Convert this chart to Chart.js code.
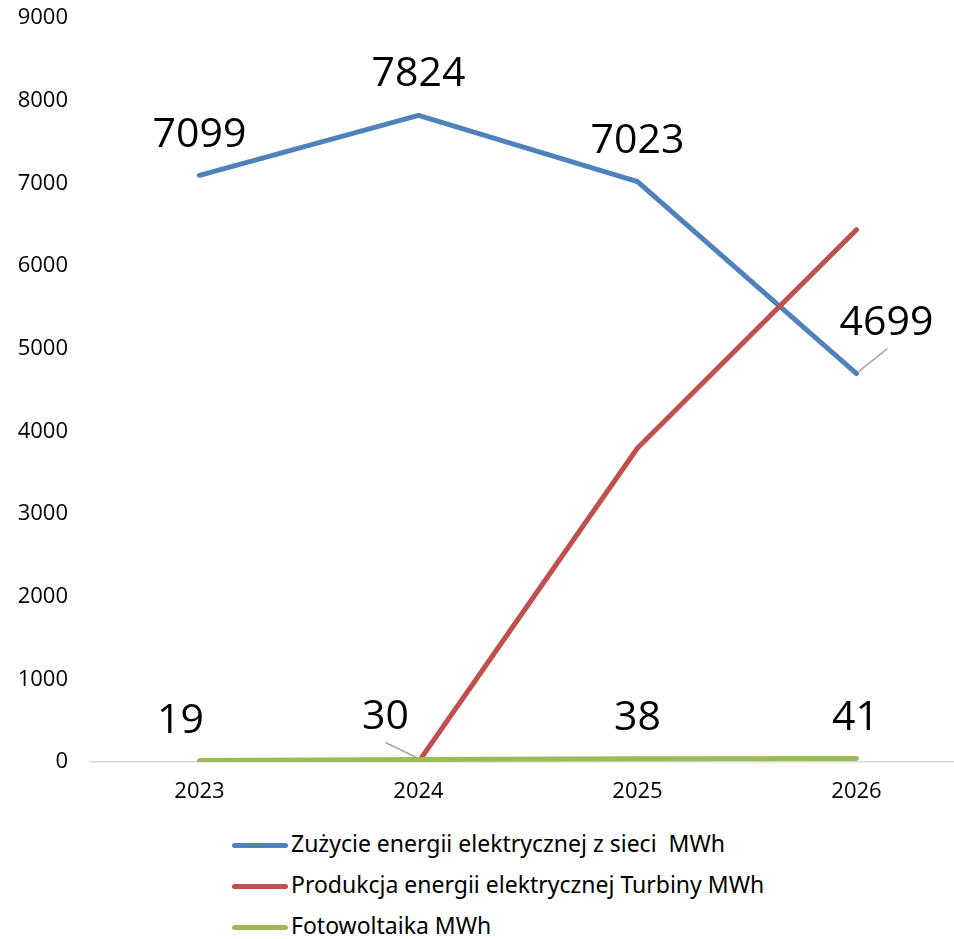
<!DOCTYPE html>
<html lang="pl">
<head>
  <meta charset="UTF-8">
  <script src="https://cdn.jsdelivr.net/npm/chart.js"></script>
  <title>Energia MWh</title>
  <style>
    html, body { margin: 0; padding: 0; background: #fff; overflow: hidden; }
    #wrap { position: relative; width: 966px; height: 832px; margin-top: -17px; }
    #legend {
      position: absolute; left: 232px; top: 823px;
      font-family: "Noto Sans", sans-serif; font-size: 23px; color: #000;
    }
    #legend div { height: 41px; line-height: 41px; white-space: pre; }
    #legend span.sw {
      display: inline-block; width: 56px; height: 5px; border-radius: 3px;
      vertical-align: middle; margin-right: 3px;
    }
  </style>
</head>
<body>
  <div id="wrap"><canvas id="myChart"></canvas></div>
  <div id="legend"></div>
  <script>
    // dane z wykresu
    const years = ['2023', '2024', '2025', '2026'];
    const gridUse = [7099, 7824, 7023, 4699];
    const turbine = [0, 0, 3800, 6440];
    const solar = [19, 30, 38, 41];
    const seriesNames = [
      'Zużycie energii elektrycznej z sieci  MWh',
      'Produkcja energii elektrycznej Turbiny MWh',
      'Fotowoltaika MWh'
    ];
    const colors = ['#4f81bd', '#c0504d', '#9bbb59'];

    // etykiety wartosci (rysowane recznie, bez pluginu datalabels)
    const valueLabels = {
      id: 'valueLabels',
      afterDatasetsDraw(chart, args, opts) {
        const ctx = chart.ctx;
        ctx.save();
        ctx.font = '41px "Open Sans"';
        ctx.fillStyle = '#000';
        ctx.textAlign = 'center';
        ctx.textBaseline = 'middle';
        opts.sets.forEach(function (s) {
          const meta = chart.getDatasetMeta(s.index);
          const data = chart.data.datasets[s.index].data;
          meta.data.forEach(function (pt, i) {
            const off = s.offsets[i];
            if (off[2]) {
              const l = off[2];
              ctx.strokeStyle = '#a6a6a6';
              ctx.lineWidth = 1.5;
              ctx.beginPath();
              ctx.moveTo(pt.x + l[0], pt.y + l[1]);
              ctx.lineTo(pt.x + l[2], pt.y + l[3]);
              ctx.stroke();
            }
            ctx.fillText(String(data[i]), pt.x + off[0], pt.y + off[1]);
          });
        });
        ctx.restore();
      }
    };

    const ctx = document.getElementById('myChart');
    new Chart(ctx, {
      type: 'line',
      data: {
        labels: years,
        datasets: [
          { label: seriesNames[0], data: gridUse, borderColor: colors[0], order: 2 },
          { label: seriesNames[1], data: turbine, borderColor: colors[1], order: 1 },
          { label: seriesNames[2], data: solar, borderColor: colors[2], order: 0 }
        ]
      },
      options: {
        responsive: true,
        maintainAspectRatio: false,
        animation: false,
        layout: { padding: { top: 0, left: 0, right: 0, bottom: 0 } },
        elements: {
          line: { borderWidth: 5, borderCapStyle: 'round', borderJoinStyle: 'round', tension: 0, fill: false },
          point: { radius: 0, hoverRadius: 0 }
        },
        plugins: {
          legend: { display: false },
          tooltip: { enabled: false },
          valueLabels: {
            sets: [
              { index: 0, offsets: [[0, -40], [0, -41], [0, -40], [30, -50, [2, -2, 31, -25]]] },
              { index: 2, offsets: [[-19, -39], [-33, -42, [-33, -17, -2, -2]], [0, -41], [-1, -40]] }
            ]
          }
        },
        scales: {
          x: {
            offset: true,
            grid: { display: false, drawTicks: false },
            border: { display: true, color: '#d9d9d9', width: 1.5 },
            ticks: { color: '#000', font: { family: 'Open Sans', size: 22 }, padding: 17 },
            afterFit: function (scale) { scale.height = 53; }
          },
          y: {
            min: 0,
            max: 9000,
            grid: { display: false, drawTicks: false },
            border: { display: false },
            ticks: {
              stepSize: 1000, color: '#000', font: { family: 'Open Sans', size: 22 }, padding: 22,
              callback: function (v) { return String(v); }
            },
            afterFit: function (scale) { scale.width = 90; }
          }
        }
      },
      plugins: [valueLabels]
    });

    // legenda pionowa pod wykresem
    const legend = document.getElementById('legend');
    seriesNames.forEach(function (name, i) {
      const row = document.createElement('div');
      const sw = document.createElement('span');
      sw.className = 'sw';
      sw.style.background = colors[i];
      row.appendChild(sw);
      row.appendChild(document.createTextNode(name));
      legend.appendChild(row);
    });
  </script>
</body>
</html>
